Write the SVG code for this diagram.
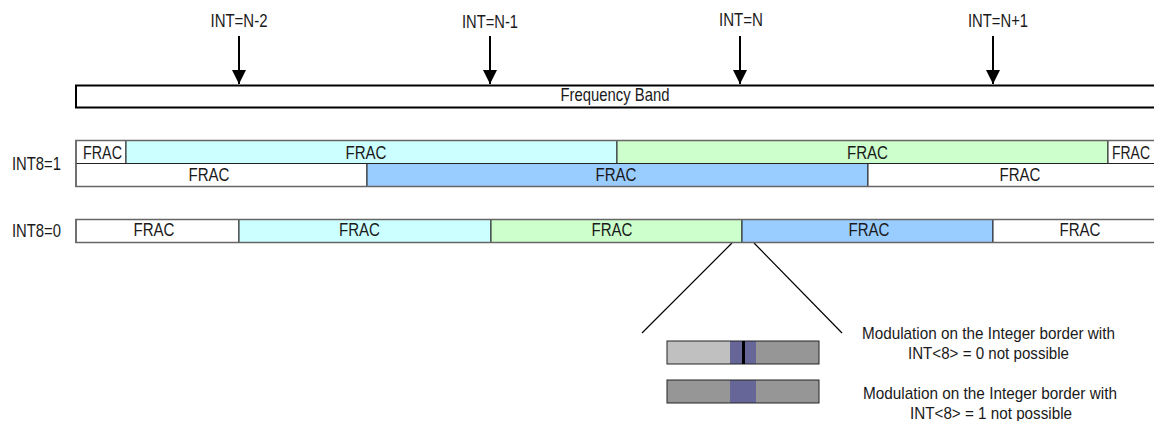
<svg xmlns="http://www.w3.org/2000/svg" width="1154" height="421" viewBox="0 0 1154 421">
<style>
text{font-family:"Liberation Sans Narrow","Liberation Sans",Arial,sans-serif;fill:#1a1a1a}
.lbl{font-size:18.5px;text-anchor:middle}
.fr{font-size:18px;text-anchor:middle}
.seg{stroke:#222;stroke-width:1}
.outer{fill:none;stroke:#666;stroke-width:1.5}
.w{fill:#fff}.c{fill:#ccffff}.g{fill:#ccffcc}.b{fill:#99ccff}
.arr{stroke:#000;stroke-width:2}
.note{font-size:17px;text-anchor:middle}
</style>
<defs>
<marker id="ah" viewBox="0 0 10 10" refX="10" refY="5" markerWidth="7.5" markerHeight="7" markerUnits="strokeWidth" orient="auto">
<path d="M0,0 L10,5 L0,10 z" fill="#000"/>
</marker>
</defs>

<g id="int-labels">
<text class="lbl" x="239" y="27" textLength="57" lengthAdjust="spacingAndGlyphs">INT=N-2</text>
<text class="lbl" x="490" y="28" textLength="56" lengthAdjust="spacingAndGlyphs">INT=N-1</text>
<text class="lbl" x="741" y="26" textLength="44" lengthAdjust="spacingAndGlyphs">INT=N</text>
<text class="lbl" x="998" y="27" textLength="60" lengthAdjust="spacingAndGlyphs">INT=N+1</text>
</g>

<g id="connectors">
<line class="arr" x1="239" y1="36" x2="239" y2="84" marker-end="url(#ah)"/>
<line class="arr" x1="490" y1="36" x2="490" y2="84" marker-end="url(#ah)"/>
<line class="arr" x1="740" y1="36" x2="740" y2="84" marker-end="url(#ah)"/>
<line class="arr" x1="993" y1="36" x2="993" y2="84" marker-end="url(#ah)"/>
<line x1="732" y1="243" x2="642" y2="333" stroke="#000" stroke-width="1.2"/>
<line x1="754" y1="243" x2="842" y2="333" stroke="#000" stroke-width="1.2"/>
</g>

<g id="band">
<rect x="76" y="85.5" width="1090" height="22" fill="#fff" stroke="#000" stroke-width="2"/>
<text class="lbl" x="615" y="101" textLength="109" lengthAdjust="spacingAndGlyphs">Frequency Band</text>
</g>

<g id="int8-1">
<text class="lbl" x="36.5" y="170" textLength="49" lengthAdjust="spacingAndGlyphs">INT8=1</text>
<rect class="seg w" x="76" y="140.5" width="50" height="23"/>
<rect class="seg c" x="126" y="140.5" width="491" height="23"/>
<rect class="seg g" x="617" y="140.5" width="491" height="23"/>
<rect class="seg w" x="1108" y="140.5" width="60" height="23"/>
<rect class="seg w" x="76" y="163.5" width="291" height="23"/>
<rect class="seg b" x="367" y="163.5" width="501" height="23"/>
<rect class="seg w" x="868" y="163.5" width="300" height="23"/>
<rect class="outer" x="76" y="140.5" width="1100" height="46"/>
<text class="fr" x="102.5" y="159" textLength="39" lengthAdjust="spacingAndGlyphs">FRAC</text>
<text class="fr" x="366" y="159" textLength="41" lengthAdjust="spacingAndGlyphs">FRAC</text>
<text class="fr" x="867.5" y="159" textLength="41" lengthAdjust="spacingAndGlyphs">FRAC</text>
<text class="fr" x="1112" y="159" textLength="38" lengthAdjust="spacingAndGlyphs" style="text-anchor:start">FRAC</text>
<text class="fr" x="209" y="181" textLength="41" lengthAdjust="spacingAndGlyphs">FRAC</text>
<text class="fr" x="616" y="181" textLength="41" lengthAdjust="spacingAndGlyphs">FRAC</text>
<text class="fr" x="1020" y="181" textLength="41" lengthAdjust="spacingAndGlyphs">FRAC</text>
</g>

<g id="int8-0">
<text class="lbl" x="36.5" y="237" textLength="49" lengthAdjust="spacingAndGlyphs">INT8=0</text>
<rect class="seg w" x="76" y="219.5" width="163" height="23"/>
<rect class="seg c" x="239" y="219.5" width="252" height="23"/>
<rect class="seg g" x="491" y="219.5" width="251" height="23"/>
<rect class="seg b" x="742" y="219.5" width="251" height="23"/>
<rect class="seg w" x="993" y="219.5" width="175" height="23"/>
<rect class="outer" x="76" y="219.5" width="1100" height="23"/>
<text class="fr" x="154" y="236" textLength="41" lengthAdjust="spacingAndGlyphs">FRAC</text>
<text class="fr" x="359.5" y="236" textLength="41" lengthAdjust="spacingAndGlyphs">FRAC</text>
<text class="fr" x="612" y="236" textLength="41" lengthAdjust="spacingAndGlyphs">FRAC</text>
<text class="fr" x="869" y="236" textLength="41" lengthAdjust="spacingAndGlyphs">FRAC</text>
<text class="fr" x="1080" y="236" textLength="41" lengthAdjust="spacingAndGlyphs">FRAC</text>
</g>

<g id="bar-int0">
<rect x="667" y="341" width="63" height="23" fill="#c0c0c0"/>
<rect x="730" y="341" width="26" height="23" fill="#666699"/>
<rect x="756" y="341" width="63" height="23" fill="#969696"/>
<rect x="667" y="341" width="152" height="23" fill="none" stroke="#222" stroke-width="1"/>
<line x1="743.5" y1="341" x2="743.5" y2="364" stroke="#000" stroke-width="3"/>
</g>

<g id="bar-int1">
<rect x="667" y="380" width="152" height="23" fill="#969696"/>
<rect x="730" y="380" width="26" height="23" fill="#666699"/>
<rect x="667" y="380" width="152" height="23" fill="none" stroke="#222" stroke-width="1"/>
</g>

<g id="note-0">
<text class="note" x="988.5" y="339" textLength="253" lengthAdjust="spacingAndGlyphs">Modulation on the Integer border with</text>
<text class="note" x="988.5" y="359" textLength="161" lengthAdjust="spacingAndGlyphs">INT&lt;8&gt; = 0 not possible</text>
</g>

<g id="note-1">
<text class="note" x="990" y="399" textLength="254" lengthAdjust="spacingAndGlyphs">Modulation on the Integer border with</text>
<text class="note" x="991" y="419" textLength="162" lengthAdjust="spacingAndGlyphs">INT&lt;8&gt; = 1 not possible</text>
</g>
</svg>
